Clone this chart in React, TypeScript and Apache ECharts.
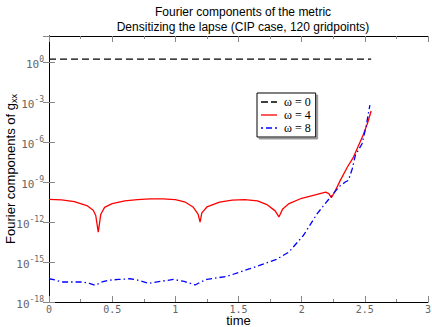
import React, { useEffect, useRef } from "react";
import * as echarts from "echarts";

const titleLines = ["Fourier components of the metric", "Densitizing the lapse (CIP case, 120 gridpoints)"];
const xName = "time";
const legendNames = ["ω = 0", "ω = 4", "ω = 8"];

const w0X = [0, 2.55];
const w0Y = [1.8, 1.8];

const w4X = [0, 0.1, 0.2, 0.3, 0.35, 0.37, 0.39, 0.41, 0.44, 0.5, 0.6, 0.7, 0.8, 0.9, 1.0, 1.08, 1.14, 1.18, 1.196, 1.21, 1.25, 1.35, 1.45, 1.55, 1.65, 1.73, 1.79, 1.82, 1.85, 1.9, 2.0, 2.1, 2.19, 2.215, 2.235, 2.26, 2.306, 2.36, 2.41, 2.48, 2.52, 2.55];
const w4Y = [5.2e-11, 4.8e-11, 3.5e-11, 1.8e-11, 7.9e-12, 3.2e-12, 1.8e-13, 4.0e-12, 1.3e-11, 2.5e-11, 4.0e-11, 5.0e-11, 5.6e-11, 5.6e-11, 5.0e-11, 3.2e-11, 1.4e-11, 4.0e-12, 1.0e-12, 5.0e-12, 1.4e-11, 3.2e-11, 4.5e-11, 5.0e-11, 4.0e-11, 2.0e-11, 7.1e-12, 2.5e-12, 1.0e-11, 2.5e-11, 6.3e-11, 1.1e-10, 1.8e-10, 1.4e-10, 7.1e-11, 1.8e-10, 1.4e-9, 1.3e-8, 7.9e-8, 2.5e-6, 2.5e-5, 2.3e-4];

const w8X = [0, 0.05, 0.1, 0.2, 0.27, 0.32, 0.365, 0.42, 0.47, 0.55, 0.64, 0.7, 0.79, 0.88, 0.985, 1.07, 1.157, 1.2, 1.25, 1.41, 1.59, 1.8, 1.9, 2.015, 2.12, 2.17, 2.25, 2.3, 2.345, 2.37, 2.4, 2.425, 2.478, 2.51, 2.54];
const w8Y = [5.6e-17, 4.5e-17, 3.2e-17, 3.2e-17, 3.2e-17, 2.5e-17, 1.8e-17, 3.2e-17, 4.3e-17, 5.0e-17, 5.6e-17, 4.5e-17, 2.5e-17, 3.5e-17, 5.0e-17, 3.5e-17, 1.9e-17, 3.2e-17, 5.0e-17, 8.5e-17, 3.2e-16, 1.6e-15, 5.8e-15, 1.05e-13, 4.0e-12, 1.6e-11, 1.4e-10, 5.0e-10, 1.05e-9, 1.4e-9, 1.0e-8, 1.07e-7, 7.9e-7, 1.6e-5, 6.3e-4];

const pairs = (xs: number[], ys: number[]) => xs.map((x, i) => [x, ys[i]]);

const legendIcons = [
  "path://M0,0h7v1.3h-7z M10,0h6v1.3h-6z",
  "path://M0,0h16v1.3h-16z",
  "path://M0,0h2v1.3h-2z M5,0h6v1.3h-6z M14,0h2v1.3h-2z",
];

export default function App() {
  const ref = useRef<HTMLDivElement>(null);
  useEffect(() => {
    const chart = echarts.init(ref.current!, null, { renderer: "svg" });
    const tickStyle = { color: "#888", width: 1 };
    const monoLabel = { fontFamily: "DejaVu Sans Mono", fontSize: 10, color: "#666" };
    const xBase = {
      type: "value" as const,
      min: 0,
      max: 3,
      interval: 0.5,
      splitLine: { show: false },
      axisLine: { show: true, lineStyle: { color: "#000", width: 1 } },
      axisTick: { show: true, inside: true, length: 6, lineStyle: tickStyle },
      minorTick: { show: true, splitNumber: 2, length: 3, lineStyle: tickStyle },
    };
    const yBase = {
      type: "log" as const,
      logBase: 10,
      min: 1e-18,
      max: 1e2,
      interval: 3,
      splitLine: { show: false },
      axisLine: { show: true, lineStyle: { color: "#000", width: 1 } },
      axisTick: { show: true, inside: true, length: 6, lineStyle: tickStyle },
    };
    chart.setOption({
      animation: false,
      backgroundColor: "#fff",
      title: {
        text: titleLines.join("\n"),
        left: 238,
        textAlign: "center",
        top: 0,
        textStyle: { fontFamily: "Liberation Sans", fontSize: 12, fontWeight: "normal", color: "#000", lineHeight: 14.5 },
      },
      grid: { left: 49, right: 4, top: 36, bottom: 25, outerBoundsMode: "none", containLabel: false },
      legend: {
        orient: "vertical",
        left: 257,
        top: 93,
        padding: [3, 5, 3, 4],
        itemGap: 1,
        itemWidth: 16,
        itemHeight: 11,
        borderColor: "#000",
        borderWidth: 1,
        borderRadius: 0,
        backgroundColor: "#fff",
        shadowColor: "#999",
        shadowOffsetX: 2,
        shadowOffsetY: 2,
        shadowBlur: 0,
        textStyle: { fontFamily: "Liberation Serif", fontSize: 12, color: "#000", padding: [0, 0, 0, 2] },
        data: legendNames.map((n, i) => ({ name: n, icon: legendIcons[i] })),
      },
      xAxis: [
        {
          ...xBase,
          position: "bottom",
          name: xName,
          nameLocation: "middle",
          nameGap: 12,
          nameMoveOverlap: false,
          nameTextStyle: { fontFamily: "Liberation Sans", fontSize: 13, color: "#000" },
          axisLabel: { ...monoLabel, margin: 2, formatter: (v: number) => String(v) },
        },
        { ...xBase, position: "top", axisLabel: { show: false } },
      ],
      yAxis: [
        {
          ...yBase,
          position: "left",
          name: "{a|Fourier components of g}{s|xx}",
          nameLocation: "middle",
          nameGap: 31,
          nameMoveOverlap: false,
          nameRotate: 90,
          nameTextStyle: {
            color: "#000",
            rich: {
              a: { fontFamily: "Liberation Sans", fontSize: 13, color: "#000" },
              s: { fontFamily: "Liberation Sans", fontSize: 9, color: "#000", padding: [6, 0, 0, 0] },
            },
          },
          axisLabel: {
            margin: 5,
            showMaxLabel: false,
            formatter: (v: number) => `{b|10}{e|${Math.round(Math.log10(v))}}`,
            rich: {
              b: { ...monoLabel, fontSize: 11, padding: [4, 0, 0, 0] },
              e: { ...monoLabel, fontSize: 8, padding: [0, 0, 6, 0] },
            },
          },
        },
        { ...yBase, position: "right", axisLabel: { show: false } },
      ],
      series: [
        {
          name: legendNames[0],
          type: "line",
          data: pairs(w0X, w0Y),
          symbol: "none",
          lineStyle: { color: "#000", width: 1.3, type: [7, 4] },
          itemStyle: { color: "#000" },
        },
        {
          name: legendNames[1],
          type: "line",
          data: pairs(w4X, w4Y),
          symbol: "none",
          lineStyle: { color: "#ff0000", width: 1.3 },
          itemStyle: { color: "#ff0000" },
        },
        {
          name: legendNames[2],
          type: "line",
          data: pairs(w8X, w8Y),
          symbol: "none",
          lineStyle: { color: "#0000ff", width: 1.3, type: [6, 3, 1.5, 3] },
          itemStyle: { color: "#0000ff" },
        },
      ],
    });
    return () => chart.dispose();
  }, []);
  return <div ref={ref} style={{ width: 432, height: 327, position: "absolute", left: 0, top: 0 }} />;
}
